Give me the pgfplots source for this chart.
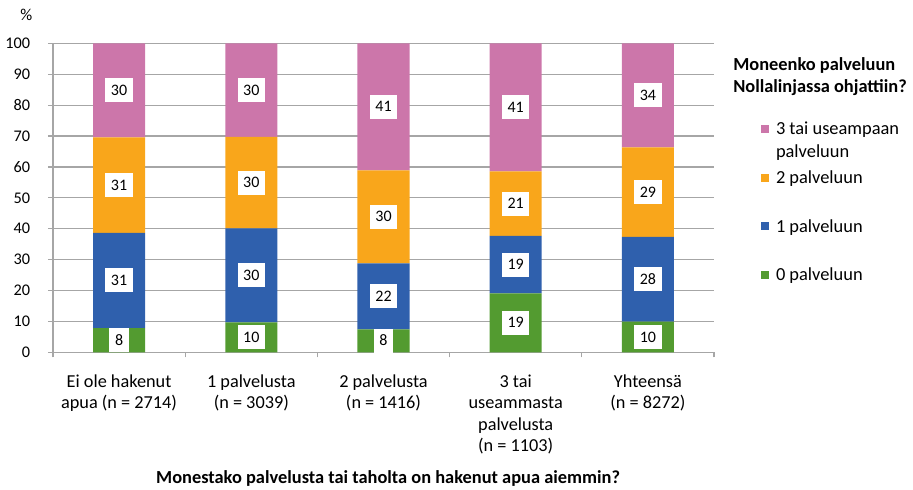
\documentclass[border=0pt]{standalone}
\usepackage{fontspec}
\setmainfont{Carlito}
\usepackage{pgfplots}
\usepackage{pgfplotstable}
\pgfplotsset{compat=1.18}
\definecolor{pinkc}{RGB}{204,118,170}
\definecolor{orangec}{RGB}{249,166,27}
\definecolor{bluec}{RGB}{47,96,173}
\definecolor{greenc}{RGB}{83,155,48}
\definecolor{gridgray}{RGB}{166,166,166}

\pgfplotstableread{
x g b o p
0 7.8 30.9 30.9 30.4
1 9.7 30.4 29.6 30.3
2 7.4 21.4 30.1 41.1
3 19.1 18.6 20.9 41.4
4 9.9 27.5 28.9 33.7
}\bars

\pgfplotstableread{
x y lab
0 3.9 8
0 23.25 31
0 54.15 31
0 84.8 30
1 4.85 10
1 24.9 30
1 54.9 30
1 84.85 30
2 3.7 8
2 18.1 22
2 43.85 30
2 79.45 41
3 9.55 19
3 28.4 19
3 48.15 21
3 79.3 41
4 4.95 10
4 23.65 28
4 51.85 29
4 83.15 34
}\labs

\newcommand{\tl}[1]{\begin{tabular}[t]{@{}c@{}}#1\end{tabular}}

\begin{document}
\begin{tikzpicture}
\useasboundingbox (0,0) rectangle (684.75pt,366.75pt);
\begin{axis}[
  at={(39.75pt,102.5pt)}, anchor=south west,
  width=495.75pt, height=231.75pt, scale only axis,
  ybar stacked, bar width=0.3935,
  xmin=-0.5, xmax=4.5, ymin=0, ymax=100,
  enlargelimits=false,
  axis lines*=left,
  axis line style={draw=gridgray, line width=0.9pt},
  ytick={0,10,...,100},
  xtick={-0.5,0.5,...,4.5},
  x tick label as interval,
  xticklabels={{\tl{Ei ole hakenut\\apua (n = 2714)}},{\tl{1 palvelusta\\(n = 3039)}},{\tl{2 palvelusta\\(n = 1416)}},{\tl{3 tai\\useammasta\\palvelusta\\(n = 1103)}},{\tl{Yhteensä\\(n = 8272)}}},
  tick align=outside,
  major tick length=3.75pt,
  every tick/.style={draw=gridgray, line width=0.9pt},
  ymajorgrids,
  grid style={draw=gridgray, line width=0.9pt},
  /pgf/number format/assume math mode=true,
  yticklabel style={font=\fontsize{12.2}{14}\selectfont, anchor=east, inner sep=0pt, xshift=-13.2pt},
  xticklabel style={font=\fontsize{13.7}{16.1}\selectfont, anchor=base, inner sep=0pt, yshift=-22.6pt},
  legend style={at={(1.0711,0.7825)}, anchor=north west, draw=none, fill=none, inner sep=0pt, outer sep=0pt, row sep=0pt, column sep=5.25pt, font=\fontsize{13.8}{17.25}\selectfont, nodes={inner sep=0pt, text height=18.25pt, text depth=18.25pt}},
  legend cell align=left,
  reverse legend,
  legend image code/.code={\fill[#1] (0pt,1.4pt) rectangle (6pt,7.4pt);},
]
\addplot[fill=greenc, draw=none] table[x=x, y=g] {\bars};
\addlegendentry{0 palveluun}
\addplot[fill=bluec, draw=none] table[x=x, y=b] {\bars};
\addlegendentry{1 palveluun}
\addplot[fill=orangec, draw=none] table[x=x, y=o] {\bars};
\addlegendentry{2 palveluun}
\addplot[fill=pinkc, draw=none] table[x=x, y=p] {\bars};
\addlegendentry{\smash{\begin{tabular}[t]{@{}l@{}}3 tai useampaan\\palveluun\end{tabular}}}
\end{axis}
\begin{axis}[
  at={(39.75pt,102.5pt)}, anchor=south west,
  width=495.75pt, height=231.75pt, scale only axis,
  xmin=-0.5, xmax=4.5, ymin=0, ymax=100,
  enlargelimits=false, hide axis, clip=false,
]
\addplot[draw=none, mark=none, nodes near coords, point meta=explicit symbolic,
  nodes near coords style={anchor=center, fill=white, text=black, font=\fontsize{12}{14}\selectfont, inner xsep=4.2pt, inner ysep=5.2pt, text height=7.6pt, text depth=0pt}]
  table[x=x, y=y, meta=lab] {\labs};
\end{axis}
\node[anchor=base west, inner sep=0pt, font=\fontsize{12.5}{14}\selectfont] at (15pt,351pt) {\%};
\node[anchor=base, inner sep=0pt, font=\bfseries\fontsize{13.8}{16}\selectfont] at (291pt,4.2pt) {Monestako palvelusta tai taholta on hakenut apua aiemmin?};
\node[anchor=base west, inner sep=0pt, font=\bfseries\fontsize{13.8}{16}\selectfont] at (549.75pt,313.5pt) {Moneenko palveluun};
\node[anchor=base west, inner sep=0pt, font=\bfseries\fontsize{13.8}{16}\selectfont] at (549.75pt,297pt) {Nollalinjassa ohjattiin?};
\end{tikzpicture}
\end{document}
